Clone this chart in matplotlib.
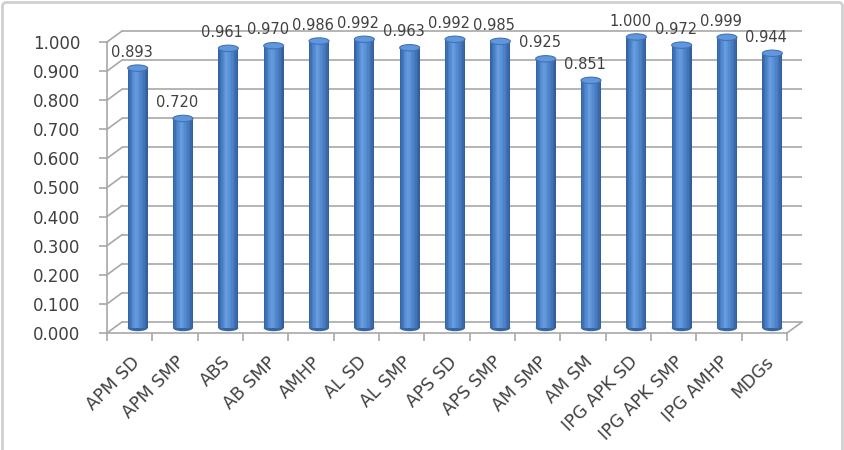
import numpy as np
import matplotlib
matplotlib.use('Agg')
import matplotlib.pyplot as plt
from matplotlib.transforms import ScaledTranslation
from matplotlib.patches import Ellipse, FancyBboxPatch
from matplotlib.lines import Line2D
from matplotlib.colors import LinearSegmentedColormap

categories = ['APM SD', 'APM SMP', 'ABS', 'AB SMP', 'AMHP', 'AL SD', 'AL SMP',
              'APS SD', 'APS SMP', 'AM SMP', 'AM SM', 'IPG APK SD',
              'IPG APK SMP', 'IPG AMHP', 'MDGs']
values = [0.893, 0.720, 0.961, 0.970, 0.986, 0.992, 0.963, 0.992, 0.985,
          0.925, 0.851, 1.000, 0.972, 0.999, 0.944]
y_ticks = [0.0, 0.1, 0.2, 0.3, 0.4, 0.5, 0.6, 0.7, 0.8, 0.9, 1.0]
y_tick_labels = ['%.3f' % t for t in y_ticks]

W, H, DPI = 845, 450, 100
grid_col = '#a8a8a8'
text_col = '#404040'

fig = plt.figure(figsize=(W / DPI, H / DPI), dpi=DPI)

# front plane of the fake 3d box (pixels from top-left)
left, right, top, bottom = 107, 787, 42, 333
ax = fig.add_axes([left / W, 1 - bottom / H, (right - left) / W, (bottom - top) / H])
ax.patch.set_visible(False)
n = len(categories)
x = np.arange(n)
x_lo, x_hi = -0.5, n - 0.5
ax.set_xlim(x_lo, x_hi)
ax.set_ylim(0, 1)


def shifted(dx, dy):
    return ax.transData + ScaledTranslation(dx / DPI, dy / DPI, fig.dpi_scale_trans)


depth = (15, 11)
back = shifted(*depth)
mid = shifted(8, 5)

# back wall gridlines
ax.hlines(y_ticks, x_lo, x_hi, colors=grid_col, lw=1.2, transform=back,
          clip_on=False, zorder=1)

# side wall / floor connectors
for t in y_ticks:
    x0, y0 = ax.transData.transform((x_lo, t))
    fig.add_artist(Line2D([x0, x0 + depth[0]], [y0, y0 + depth[1]], transform=None,
                          color=grid_col, lw=1.2, zorder=1))
x0, y0 = ax.transData.transform((x_hi, 0))
fig.add_artist(Line2D([x0, x0 + depth[0]], [y0, y0 + depth[1]], transform=None,
                      color=grid_col, lw=1.2, zorder=1))

# cylinders
w = 0.44
cyl = LinearSegmentedColormap.from_list('cyl', ['#3565a4', '#4d84cb', '#6a9de0',
                                               '#558dd2', '#4579bc', '#32609e'])
strips = 14
for i in range(strips):
    ax.bar(x - w / 2 + (i + 0.5) * w / strips, values, width=w / strips * 1.05,
           color=cyl(i / (strips - 1)), linewidth=0, transform=mid,
           clip_on=False, zorder=3)
for xi, v in zip(x, values):
    ax.add_patch(Ellipse((xi, 0), w, 0.022, facecolor='#3565a4', edgecolor='none',
                         transform=mid, clip_on=False, zorder=2))
    ax.add_patch(Ellipse((xi, v), w, 0.022, facecolor='#6197dc', edgecolor='#4273b5',
                         lw=0.8, transform=mid, clip_on=False, zorder=4))
    ax.annotate('%.3f' % v, (xi, v), xytext=(2, 21), textcoords='offset pixels',
                ha='center', va='center', fontsize=10.5, color=text_col,
                annotation_clip=False, zorder=5)

# axes styling
for s in ['top', 'right']:
    ax.spines[s].set_visible(False)
for s in ['left', 'bottom']:
    ax.spines[s].set_color(grid_col)
    ax.spines[s].set_linewidth(1.2)

ax.set_yticks(y_ticks)
ax.set_yticklabels(y_tick_labels)
ax.tick_params(axis='y', length=6, width=1.2, color=grid_col, pad=13,
               labelsize=12, labelcolor=text_col)

ax.set_xticks(x)
ax.set_xticks(np.append(x, n) - 0.5, minor=True)
ax.set_xticklabels(categories, rotation=45, ha='right', va='center',
                   rotation_mode='anchor')
ax.tick_params(axis='x', which='major', length=0, pad=19, labelsize=12.5,
               labelcolor=text_col)
ax.tick_params(axis='x', which='minor', length=6, width=1.2, color=grid_col)
for lab in ax.get_xticklabels():
    lab.set_transform(lab.get_transform() + ScaledTranslation(7 / DPI, 0, fig.dpi_scale_trans))

ax.set_xlim(x_lo, x_hi)
ax.set_ylim(0, 1)

# outer chart border
fig.add_artist(FancyBboxPatch((2.5, -10), W - 5, H + 7.5,
                              boxstyle='round,pad=0,rounding_size=4', transform=None,
                              facecolor='none', edgecolor='#d0d0d0', lw=2))

fig.savefig('out.png', dpi=DPI)
